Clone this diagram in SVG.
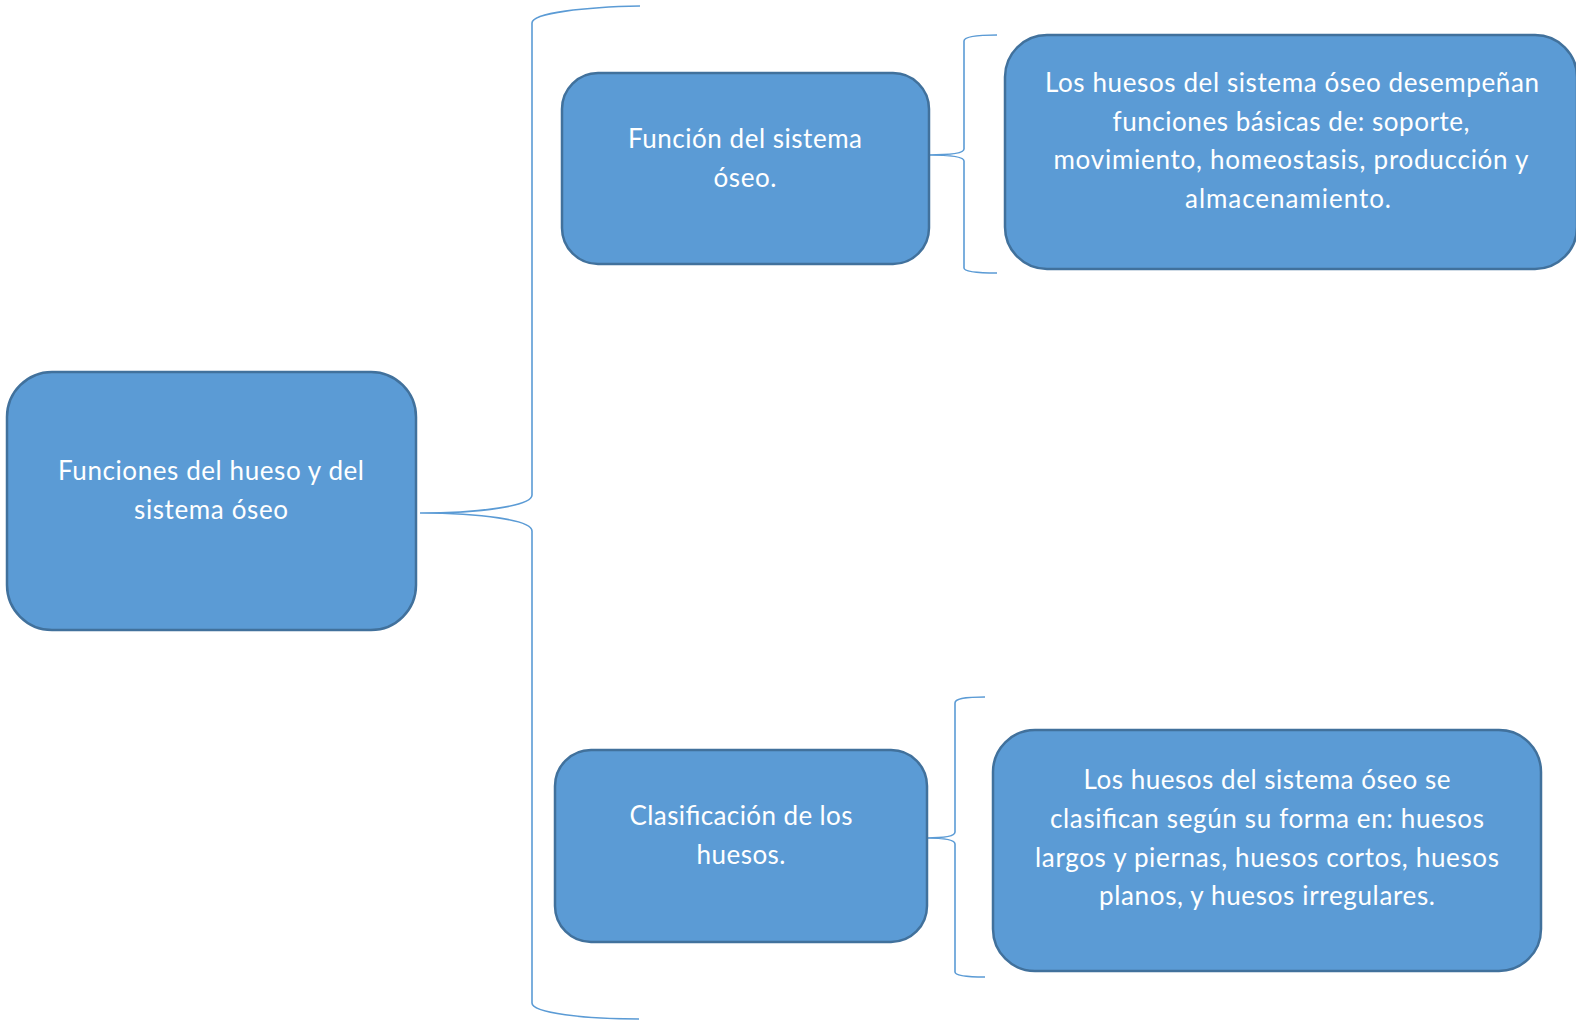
<svg xmlns="http://www.w3.org/2000/svg" width="1576" height="1021" viewBox="0 0 1576 1021">
  <style>
    .box { fill: #5B9BD5; stroke: #41719C; stroke-width: 2.5; }
    .lbl { font-family: Lato, "Open Sans", "Liberation Sans", sans-serif; font-size: 26px; fill: #FFFFFF; text-anchor: middle; }
    .brace { fill: none; stroke: #5B9BD5; stroke-width: 1.6; }
  </style>
  <rect width="1576" height="1021" fill="#FFFFFF"/>
  <g id="connectors">
    <path class="brace" d="M640,6 C585,7 532,13 532,23 L532,495 C532,506 480,513 420,513 C480,513 532,520 532,531 L532,1003 C532,1013 585,1019 639,1019"/>
    <path class="brace" d="M997,35 C974,35 964,37 964,41 L964,149 C964,153 952,155 928,155 C952,155 964,157 964,161 L964,268 C964,271 974,273 997,273"/>
    <path class="brace" d="M985,697 C963,697 955,699 955,703 L955,832 C955,836 945,838 926,838 C945,838 955,840 955,844 L955,972 C955,975 963,977 985,977"/>
  </g>
  <g id="node-root">
    <rect class="box" x="7" y="372" width="409" height="258" rx="45" ry="45"/>
    <text class="lbl" x="211" y="480" textLength="306">Funciones del hueso y del</text>
    <text class="lbl" x="211" y="519" textLength="154">sistema óseo</text>
  </g>
  <g id="node-funcion">
    <rect class="box" x="562" y="73" width="367" height="191" rx="36" ry="36"/>
    <text class="lbl" x="745" y="148" textLength="234">Función del sistema</text>
    <text class="lbl" x="745" y="187" textLength="63">óseo.</text>
  </g>
  <g id="node-funcion-desc">
    <rect class="box" x="1005" y="35" width="572" height="234" rx="42" ry="42"/>
    <text class="lbl" x="1292" y="92" textLength="494">Los huesos del sistema óseo desempeñan</text>
    <text class="lbl" x="1291" y="131" textLength="357">funciones básicas de: soporte,</text>
    <text class="lbl" x="1291" y="169" textLength="475">movimiento, homeostasis, producción y</text>
    <text class="lbl" x="1288" y="208" textLength="206">almacenamiento.</text>
  </g>
  <g id="node-clasificacion">
    <rect class="box" x="555" y="750" width="372" height="192" rx="36" ry="36"/>
    <text class="lbl" x="741" y="825" textLength="223">Clasificación de los</text>
    <text class="lbl" x="741" y="864" textLength="89">huesos.</text>
  </g>
  <g id="node-clasificacion-desc">
    <rect class="box" x="993" y="730" width="548" height="241" rx="42" ry="42"/>
    <text class="lbl" x="1267" y="789" textLength="367">Los huesos del sistema óseo se</text>
    <text class="lbl" x="1267" y="828" textLength="434">clasifican según su forma en: huesos</text>
    <text class="lbl" x="1267" y="867" textLength="464">largos y piernas, huesos cortos, huesos</text>
    <text class="lbl" x="1267" y="905" textLength="336">planos, y huesos irregulares.</text>
  </g>
</svg>
